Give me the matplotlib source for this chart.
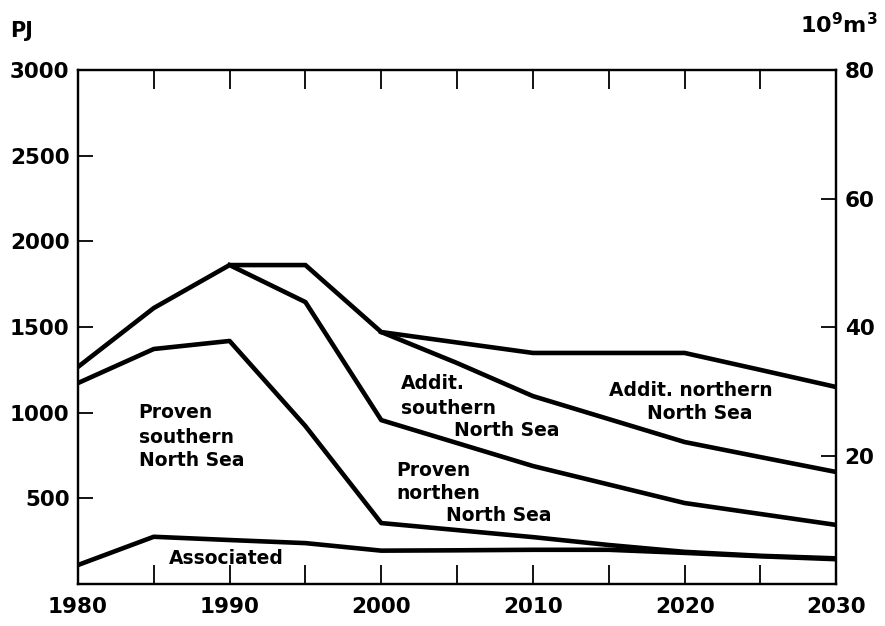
import matplotlib
matplotlib.use("Agg")
import matplotlib.pyplot as plt

years = [1980, 1985, 1990, 1995, 2000, 2005, 2010, 2015, 2020, 2025, 2030]

# cumulative lines in PJ
associated = [111, 276, 257, 239, 195, 197, 200, 200, 182, 162, 145]
proven_south = [1173, 1372, 1419, 922, 356, 315, 274, 228, 188, 165, 150]
total = [1267, 1611, 1862, 1862, 1471, 1410, 1349, 1349, 1349, 1250, 1150]

north_years = [1990, 1995, 2000, 2005, 2010, 2015, 2020, 2025, 2030]
proven_north = [1862, 1646, 957, 823, 689, 581, 473, 409, 345]

addit_years = [2000, 2005, 2010, 2015, 2020, 2025, 2030]
addit_south = [1471, 1290, 1097, 963, 829, 741, 654]

left_ticks = [500, 1000, 1500, 2000, 2500, 3000]
right_ticks = [20, 40, 60, 80]

plt.rcParams['font.family'] = ['DejaVu Sans']
plt.rcParams['font.weight'] = 'bold'
plt.rcParams['mathtext.default'] = 'bf'

fig = plt.figure(figsize=(8.85, 6.26), dpi=100)
ax = fig.add_axes([0.088, 0.067, 0.857, 0.821])

lw = 3.3
ax.plot(years, total, color='black', lw=lw, solid_joinstyle='miter')
ax.plot(years, proven_south, color='black', lw=lw)
ax.plot(years, associated, color='black', lw=lw)
ax.plot(north_years, proven_north, color='black', lw=lw)
ax.plot(addit_years, addit_south, color='black', lw=lw)

ax.set_xlim(1980, 2030)
ax.set_ylim(0, 3000)
ax.set_xticks(range(1980, 2031, 10))
ax.set_xticks(range(1985, 2030, 10), minor=True)
ax.set_yticks(left_ticks)
ax.tick_params(axis='x', which='both', direction='in', length=14, width=1.3,
               top=True, labelsize=15.5, pad=9)
ax.tick_params(axis='y', direction='in', length=11, width=1.3, labelsize=15.5, pad=6)
for s in ax.spines.values():
    s.set_linewidth(1.6)

ax2 = ax.twinx()
ax2.set_ylim(0, 80)
ax2.set_yticks(right_ticks)
ax2.tick_params(axis='y', direction='in', length=11, width=1.3, labelsize=15.5, pad=6)
for s in ax2.spines.values():
    s.set_linewidth(1.6)

fig.text(0.012, 0.95, 'PJ', fontsize=15, fontweight='bold', va='center')
fig.text(0.992, 0.96, '10$^9$m$^3$', fontsize=16, ha='right', va='center')

fs = 13.5
ax.text(1984.0, 1004, 'Proven', fontsize=fs, va='center')
ax.text(1984.0, 858, 'southern', fontsize=fs, va='center')
ax.text(1984.0, 724, 'North Sea', fontsize=fs, va='center')

ax.text(2001.3, 1173, 'Addit.', fontsize=fs, va='center')
ax.text(2001.3, 1027, 'southern', fontsize=fs, va='center')
ax.text(2004.8, 899, 'North Sea', fontsize=fs, va='center')

ax.text(2020.4, 1132, 'Addit. northern', fontsize=fs, ha='center', va='center')
ax.text(2021.0, 998, 'North Sea', fontsize=fs, ha='center', va='center')

ax.text(2001.0, 665, 'Proven', fontsize=fs, va='center')
ax.text(2001.0, 531, 'northen', fontsize=fs, va='center')
ax.text(2004.3, 403, 'North Sea', fontsize=fs, va='center')

ax.text(1986.0, 152, 'Associated', fontsize=fs, va='center')

fig.savefig('out.png', dpi=100)
